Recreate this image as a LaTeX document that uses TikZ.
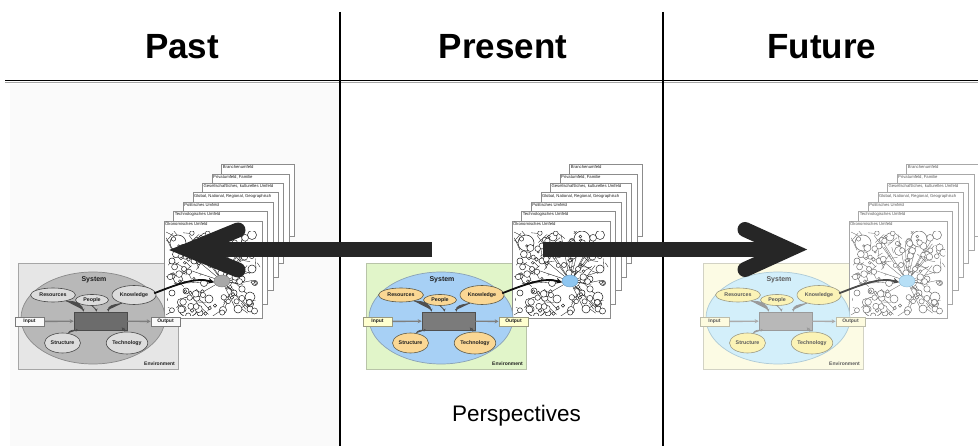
\documentclass[tikz,border=0pt]{standalone}
\usepackage{fontspec}
\setmainfont{Liberation Sans}
\usetikzlibrary{arrows.meta,shapes.geometric}

% ---------- colour sets: L = past, M = present, R = future ----------
\definecolor{envL}{HTML}{E6E6E6}\definecolor{envLd}{HTML}{A6A6A6}
\definecolor{ellL}{HTML}{B8B8B8}\definecolor{ellLd}{HTML}{8A8A8A}
\definecolor{subL}{HTML}{DCDCDC}\definecolor{subLd}{HTML}{4A4A4A}
\definecolor{boxL}{HTML}{6C6C6C}\definecolor{boxLd}{HTML}{4A4A4A}
\definecolor{ioL}{HTML}{FAFAFA}\definecolor{ioLd}{HTML}{7A7A7A}
\definecolor{flowL}{HTML}{7E7E7E}\definecolor{txtL}{HTML}{1E1E1E}
\definecolor{sheetL}{HTML}{8C8C8C}\definecolor{netL}{HTML}{1E1E1E}
\definecolor{blobL}{HTML}{A8A8A8}\definecolor{blobLd}{HTML}{7A7A7A}
\definecolor{arrL}{HTML}{0E0E0E}

\definecolor{envM}{HTML}{E1F5C9}\definecolor{envMd}{HTML}{B8C4A8}
\definecolor{ellM}{HTML}{A7D0F5}\definecolor{ellMd}{HTML}{8AA2B6}
\definecolor{subM}{HTML}{FAD794}\definecolor{subMd}{HTML}{5E5A48}
\definecolor{boxM}{HTML}{7B7B7B}\definecolor{boxMd}{HTML}{505050}
\definecolor{ioM}{HTML}{FFFFCF}\definecolor{ioMd}{HTML}{9A9A80}
\definecolor{flowM}{HTML}{7F7F7F}\definecolor{txtM}{HTML}{1E1E1E}
\definecolor{sheetM}{HTML}{8C8C8C}\definecolor{netM}{HTML}{1E1E1E}
\definecolor{blobM}{HTML}{8EC6F1}\definecolor{blobMd}{HTML}{6C9CC0}
\definecolor{arrM}{HTML}{0E0E0E}

\definecolor{envR}{HTML}{FCFBE4}\definecolor{envRd}{HTML}{D2D2C4}
\definecolor{ellR}{HTML}{D3EFFA}\definecolor{ellRd}{HTML}{AECAD6}
\definecolor{subR}{HTML}{FBF3B6}\definecolor{subRd}{HTML}{9C9A84}
\definecolor{boxR}{HTML}{B8B8B8}\definecolor{boxRd}{HTML}{9A9A9A}
\definecolor{ioR}{HTML}{FDFBDF}\definecolor{ioRd}{HTML}{BDBDAA}
\definecolor{flowR}{HTML}{ABABAB}\definecolor{txtR}{HTML}{5A5A5A}
\definecolor{sheetR}{HTML}{A8A8A8}\definecolor{netR}{HTML}{6E6E6E}
\definecolor{blobR}{HTML}{B6DFF6}\definecolor{blobRd}{HTML}{8FBCD8}
\definecolor{arrR}{HTML}{4A4A4A}

\definecolor{bigarrow}{HTML}{262626}
\definecolor{panelbg}{HTML}{FAFAFA}

\tikzset{
  x=1pt, y=-1pt,
  title/.style={font=\bfseries\fontsize{35}{40}\selectfont, anchor=base},
  tinybold/.style={font=\bfseries\fontsize{5}{6}\selectfont, inner sep=0pt},
  subell/.style={ellipse, line width=0.6pt, inner sep=0pt, font=\bfseries\fontsize{5.3}{6}\selectfont},
  iobox/.style={rectangle, line width=0.6pt, inner sep=0pt, minimum width=29pt, minimum height=9pt, font=\bfseries\fontsize{5}{6}\selectfont},
  flowarrow/.style={line width=1.4pt, -{Stealth[length=4pt,width=4pt]}},
  feedarrow/.style={line width=0.7pt, -{Stealth[length=3pt,width=2.8pt]}},
  sheetbox/.style={rectangle, fill=white, line width=0.6pt, inner sep=0pt},
  sheetlabel/.style={anchor=north west, inner sep=1.3pt, font=\fontsize{4.2}{5}\selectfont},
  bigstroke/.style={draw=bigarrow, line width=15pt},
}

% network of circles on the front sheet (same pattern in every panel)
\newcommand\drawnet[1]{%
  \begin{scope}[shift={(164,221)}]
    \clip (2,11) rectangle (96,95);
    \pgfmathsetseed{2718}
    \foreach \k in {1,...,22}{%
      \pgfmathsetmacro\ax{3+92*rnd}\pgfmathsetmacro\ay{12+83*rnd}%
      \draw[#1, line width=0.35pt] (\ax,\ay) -- (58,60);
    }
    \foreach \k in {1,...,95}{%
      \pgfmathsetmacro\ax{3+92*rnd}\pgfmathsetmacro\ay{12+83*rnd}%
      \pgfmathsetmacro\bx{\ax+12*rand}\pgfmathsetmacro\by{\ay+12*rand}%
      \draw[#1, line width=0.35pt] (\ax,\ay) -- (\bx,\by);
    }
    \foreach \cx/\cy/\r in {14/22/8, 70/18/8, 88/14/4.5, 41/16/4, 24/86/10, 14/58/4.5,
        86/76/5, 59/89/3.5, 86/88/3, 50/30/4.5, 30/40/3, 78/34/3.5, 88/48/4, 8/72/3,
        40/62/3.5, 45/78/4, 70/72/3, 66/48/2.5, 22/70/3, 36/92/3, 74/88/4, 52/44/2.5,
        30/25/3, 60/21/3, 90/30/2.5, 8/40/3, 20/48/2.5, 78/58/3, 91/62/2.5, 62/78/2.5}
      \draw[#1, line width=0.5pt, fill=white] (\cx,\cy) circle[radius=\r];
    \foreach \k in {1,...,100}{%
      \pgfmathsetmacro\ax{3+92*rnd}\pgfmathsetmacro\ay{12+83*rnd}%
      \pgfmathsetmacro\rr{1.1+2.6*rnd}%
      \draw[#1, line width=0.45pt, fill=white] (\ax,\ay) circle[radius=\rr];
    }
  \end{scope}%
}

% one panel: system model plus the stack of environment sheets
\newcommand\drawpanel[2]{%
  \begin{scope}[xshift=#2]
    % environment
    \node[rectangle, draw=env#1d, fill=env#1, line width=0.8pt, inner sep=0pt,
          minimum width=160pt, minimum height=106pt] (#1-env) at (98,316) {};
    % stack of sheets, back to front
    \foreach \i/\lab in {6/Branchenumfeld, 5/{Privatumfeld, Familie},
        4/{Gesellschaftliches, kulturelles Umfeld}, 3/{Global, National, Regional, Geographisch},
        2/Politisches Umfeld, 1/Technologisches Umfeld, 0/Ökonomisches Umfeld}{%
      \pgfmathsetmacro\sw{98-4.2*\i}\pgfmathsetmacro\sh{97-4.2*\i}%
      \pgfmathsetmacro\scx{164+9.6*\i+\sw/2}\pgfmathsetmacro\scy{221-9.4*\i+\sh/2}%
      \node[sheetbox, draw=sheet#1, minimum width=\sw pt, minimum height=\sh pt]
        (#1-sheet\i) at (\scx,\scy) {};
      \node[sheetlabel, text=txt#1] (#1-sheetlab\i) at (#1-sheet\i.north west) {\lab};
    }
    \drawnet{net#1}
    \node[ellipse, fill=blob#1, draw=blob#1d, line width=0.4pt, inner sep=0pt,
          minimum width=16pt, minimum height=12pt] (#1-blob) at (222,281) {};
    % system
    \node[ellipse, draw=ell#1d, fill=ell#1, line width=0.7pt, inner sep=0pt,
          minimum width=144pt, minimum height=92pt] (#1-sys) at (93,318) {};
    \node[font=\bfseries\fontsize{7}{8}\selectfont, text=txt#1, inner sep=0pt] (#1-syslab) at (94,280) {System};
    \node[anchor=south east, tinybold, text=txt#1] (#1-envlab) at (175,366) {Environment};
    \node[subell, draw=sub#1d, fill=sub#1, text=txt#1, minimum width=45pt, minimum height=14pt] (#1-res) at (53,295) {Resources};
    \node[subell, draw=sub#1d, fill=sub#1, text=txt#1, minimum width=33pt, minimum height=11pt] (#1-peo) at (92,300) {People};
    \node[subell, draw=sub#1d, fill=sub#1, text=txt#1, minimum width=44pt, minimum height=19pt] (#1-kno) at (134,295) {Knowledge};
    \node[subell, draw=sub#1d, fill=sub#1, text=txt#1, minimum width=36pt, minimum height=20pt] (#1-str) at (62.5,343) {Structure};
    \node[subell, draw=sub#1d, fill=sub#1, text=txt#1, minimum width=40pt, minimum height=22pt] (#1-tec) at (127,343) {Technology};
    \node[rectangle, draw=box#1d, fill=box#1, line width=0.6pt, inner sep=0pt,
          minimum width=53pt, minimum height=18pt] (#1-box) at (100.5,321) {};
    \node[iobox, draw=io#1d, fill=io#1, text=txt#1] (#1-in) at (29.5,321.5) {Input};
    \node[iobox, draw=io#1d, fill=io#1, text=txt#1] (#1-out) at (165.5,321.5) {Output};
    % flows through the system
    \draw[flowarrow, draw=flow#1, fill=flow#1] (#1-in) -- (#1-box);
    \draw[flowarrow, draw=flow#1, fill=flow#1] (#1-box) -- (#1-out);
    \draw[feedarrow, draw=box#1d, fill=box#1d] (#1-res.-25) .. controls (78,301) and (82,305) .. ([xshift=10pt]#1-box.north west);
    \draw[feedarrow, draw=box#1d, fill=box#1d] (#1-peo.south) .. controls (93,308) and (96,308) .. ([xshift=-4pt]#1-box.north);
    \draw[feedarrow, draw=box#1d, fill=box#1d] (#1-kno.-145) .. controls (112,305) and (108,306) .. ([xshift=8pt]#1-box.north);
    \draw[feedarrow, draw=box#1d, fill=box#1d] (#1-str.60) .. controls (70,330) and (73,330) .. ([xshift=5pt]#1-box.south west);
    \draw[feedarrow, draw=box#1d, fill=box#1d] (#1-tec.100) .. controls (125,328) and (123,328) .. ([xshift=-5pt]#1-box.south east);
    % link from the system to its place in the environment
    \draw[line width=1.8pt, draw=arr#1, -{Stealth[length=6pt,width=6pt]}]
      (#1-sys.22) .. controls (178,284) and (196,277) .. (#1-blob.190);
  \end{scope}%
}

\begin{document}
\begin{tikzpicture}
\useasboundingbox (0,0) rectangle (978,446);
\fill[white] (0,0) rectangle (978,446);
\fill[panelbg] (10,84) rectangle (339,446);

% headings and grid
\node[title] (past) at (182,59) {Past};
\node[title] (present) at (503,59) {Present};
\node[title] (future) at (822,59) {Future};
\coordinate (hl) at (5,80.5);
\coordinate (hr) at (978,80.5);
\draw[line width=1.6pt] (hl) -- (hr);
\draw[line width=0.9pt, gray!70] ([yshift=-1.8pt]hl) -- ([yshift=-1.8pt]hr);
\coordinate (v1t) at (340,12); \coordinate (v1b) at (340,446);
\coordinate (v2t) at (663,12); \coordinate (v2b) at (663,446);
\draw[line width=1.3pt] (v1t) -- (v1b);
\draw[line width=1.3pt] (v2t) -- (v2b);

\drawpanel{L}{0}
\drawpanel{M}{348}
\drawpanel{R}{685}

\node[font=\fontsize{22.5}{26}\selectfont, anchor=base] (persp) at (516.5,421) {Perspectives};

% arrow back into the past
\coordinate (lstart) at (432,250);
\coordinate (lvert) at (189,250);
\coordinate (lbarbt) at (238,230);
\coordinate (lbarbb) at (238,270);
\draw[bigstroke, line cap=butt] (lstart) -- (lvert);
\draw[bigstroke, line cap=round, line join=miter] (lbarbt) -- (lvert) -- (lbarbb);

% arrow forward into the future
\coordinate (rstart) at (543,249.5);
\coordinate (rvert) at (789,249.5);
\coordinate (rbarbt) at (745,229.5);
\coordinate (rbarbb) at (745,269.5);
\draw[bigstroke, line cap=butt] (rstart) -- (rvert);
\draw[bigstroke, line cap=round, line join=miter] (rbarbt) -- (rvert) -- (rbarbb);
\end{tikzpicture}
\end{document}
